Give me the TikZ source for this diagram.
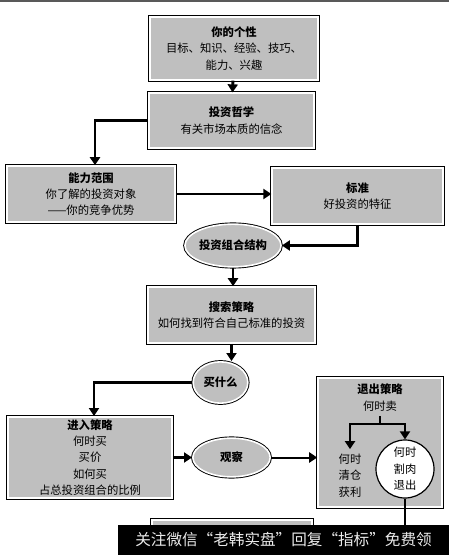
\documentclass[tikz,border=0pt]{standalone}
\usepackage{fontspec}
\setmainfont{Noto Sans CJK SC}
\usepackage{xcolor}
\usetikzlibrary{arrows.meta,shapes.geometric}

\tikzset{
  box/.style={rectangle,fill=gray!50,draw=white,line width=1.2pt,
    preaction={draw=black,line width=2.6pt},align=center,inner sep=0pt},
  oval/.style={box,ellipse},
  ring/.style={circle,draw=black,line width=0.9pt,fill=white,align=center,inner sep=0pt},
  flow/.style={line width=2.2pt,-{Triangle[length=6pt,width=7.5pt]}},
}

\begin{document}
\begin{tikzpicture}[x=0.75pt,y=-0.75pt,font=\fontsize{8.5}{12.3}\selectfont]
  \useasboundingbox (0,0) rectangle (449,555);
  \draw[gray!70!black,line width=1.2pt] (0,1) -- (449,1);

  \node[box,minimum width=126pt,minimum height=47pt] (self) at (234,48.5) {\textbf{你的个性}\\目标、知识、经验、技巧、\\能力、兴趣};
  \node[box,minimum width=124pt,minimum height=41pt] (phil) at (231.5,120.5) {\textbf{投资哲学}\\有关市场本质的信念};
  \node[box,minimum width=126pt,minimum height=42pt] (scope) at (91,194) {\textbf{能力范围}\\你了解的投资对象\\——你的竞争优势};
  \node[box,minimum width=128pt,minimum height=42pt] (crit) at (357.5,196) {\textbf{标准}\\好投资的特征};
  \node[oval,minimum width=61.5pt,minimum height=32pt] (mix) at (233,245.5) {\textbf{投资组合结构}};
  \node[box,minimum width=125pt,minimum height=42pt] (search) at (231.5,315) {\textbf{搜索策略}\\如何找到符合自己标准的投资};
  \node[oval,minimum width=41pt,minimum height=31pt] (pick) at (220.5,382.5) {\textbf{买什么}};
  \node[box,minimum width=123pt,minimum height=61pt] (entry) at (90,457.5) {\textbf{进入策略}\\何时买\\买价\\如何买\\占总投资组合的比例};
  \node[oval,minimum width=58pt,minimum height=29pt] (watch) at (231.5,457.5) {\textbf{观察}};
  \node[box,minimum width=93pt,minimum height=97pt] (exit) at (380,442.5) {};
  \node[align=center] (exithead) at (380,397.5) {\textbf{退出策略}\\何时卖};
  \node[align=center] (take) at (350,475.5) {何时\\清仓\\获利};
  \node[ring,minimum size=43.5pt] (cut) at (405,469) {何时\\割肉\\退出};
  \node[box,minimum width=120pt,minimum height=45pt] (next) at (232,550) {};
  \coordinate (split) at (380,424);
  \coordinate (tail) at (405,560);

      \draw[flow] (self) to (phil);
      \draw[flow] (phil.west) -| ([xshift=3pt]scope.north);
      \draw[flow] (scope.east) -- (scope.east -| crit.west);
      \draw[flow] (crit.south) |- (mix.east);
      \draw[flow] (mix.south) -- (mix.south |- search.north);
      \draw[flow] (search.south) -- (search.south |- pick.north);
      \draw[flow] (pick.west) -| ([xshift=3pt]entry.north);
      \draw[flow] (entry.east) -- (entry.east -| watch.west);
      \draw[flow,line width=1.5pt] (watch.east) -- (watch.east -| exit.west);
      \draw[line width=2.2pt] (exithead.south) -- (split);
      \draw[flow] (split) -| (take.north);
      \draw[flow] (split) -| (cut.north);
      \draw[line width=2.2pt] (cut.south) -- (tail);

  \node[fill=black,text=black!8,minimum width=248pt,minimum height=22.5pt,
    font=\fontsize{11.7}{13}\selectfont] (ad) at (283.5,540) {关注微信“老韩实盘”回复“指标”免费领};
\end{tikzpicture}
\end{document}
